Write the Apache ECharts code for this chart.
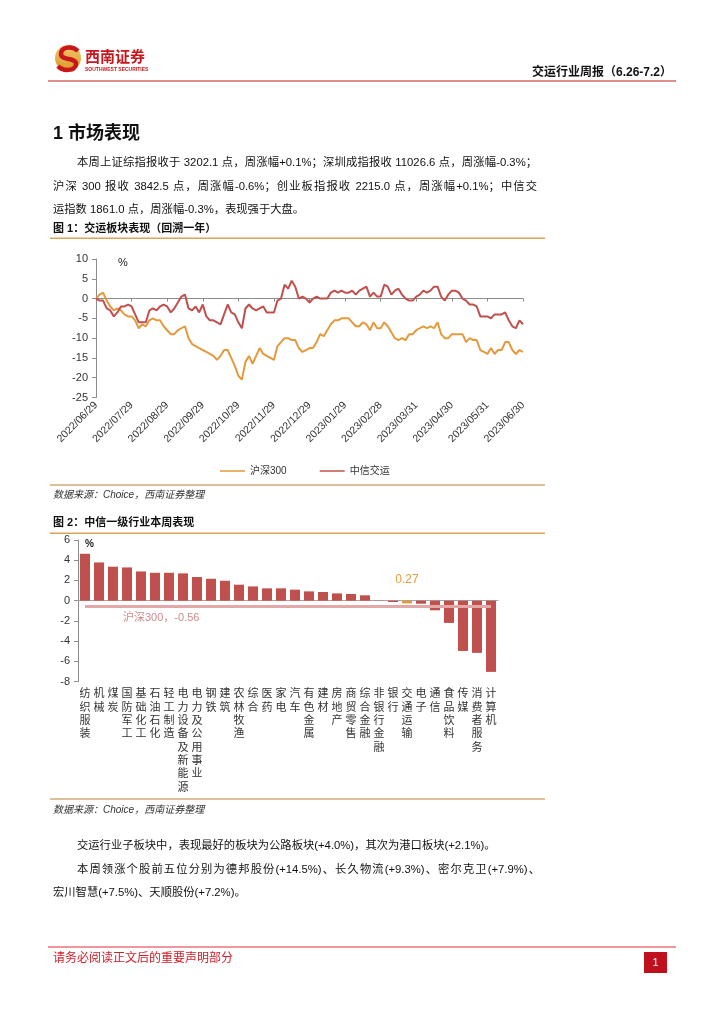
<!DOCTYPE html>
<html>
<head>
<meta charset="utf-8">
<script src="https://cdn.jsdelivr.net/npm/echarts@6/dist/echarts.min.js"></script>
<style>
  html, body { margin:0; padding:0; background:#fff; }
  #page { position:absolute; left:0; top:0; width:724px; height:1024px; }
  .t { position:absolute; font-family:'Liberation Sans','Noto Sans CJK SC',sans-serif; color:#111; white-space:nowrap; z-index:2; }
  .p { font-size:11.3px; line-height:16px; height:16px; }
  .j { text-align:justify; text-align-last:justify; white-space:normal; overflow:hidden; }
  .cap { font-size:11px; font-weight:bold; line-height:14px; }
  .src { font-size:10px; font-style:italic; color:#333; line-height:14px; }
</style>
</head>
<body>
<div id="page"></div>

<div class="t" style="left:530px;top:64px;width:142px;text-align:right;font-size:12px;font-weight:bold;line-height:16px;">交运行业周报（6.26-7.2）</div>

<div class="t" style="left:53px;top:121px;font-size:18px;font-weight:bold;line-height:24px;">1 市场表现</div>

<div class="t p j" style="left:77px;top:154px;width:460px;">本周上证综指报收于 3202.1 点，周涨幅+0.1%；深圳成指报收 11026.6 点，周涨幅-0.3%；</div>
<div class="t p j" style="left:53px;top:177.5px;width:484px;">沪深 300 报收 3842.5 点，周涨幅-0.6%；创业板指报收 2215.0 点，周涨幅+0.1%；中信交</div>
<div class="t p" style="left:53px;top:200.5px;">运指数 1861.0 点，周涨幅-0.3%，表现强于大盘。</div>

<div class="t cap" style="left:53px;top:221px;">图 1：交运板块表现（回溯一年）</div>
<div class="t src" style="left:53px;top:488px;">数据来源：Choice，西南证券整理</div>

<div class="t cap" style="left:53px;top:515px;">图 2：中信一级行业本周表现</div>
<div class="t src" style="left:53px;top:803px;">数据来源：Choice，西南证券整理</div>

<div class="t p" style="left:77px;top:837px;">交运行业子板块中，表现最好的板块为公路板块(+4.0%)，其次为港口板块(+2.1%)。</div>
<div class="t p j" style="left:77px;top:861px;width:463px;">本周领涨个股前五位分别为德邦股份(+14.5%)、长久物流(+9.3%)、密尔克卫(+7.9%)、</div>
<div class="t p" style="left:53px;top:884px;">宏川智慧(+7.5%)、天顺股份(+7.2%)。</div>

<div class="t" style="left:53px;top:950px;font-size:12px;line-height:16px;color:#d0202a;">请务必阅读正文后的重要声明部分</div>

<script>
// ---------- Figure 1 data ----------
const tickLabels1 = ['2022/06/29','2022/07/29','2022/08/29','2022/09/29','2022/10/29','2022/11/29','2022/12/29','2023/01/29','2023/02/28','2023/03/31','2023/04/30','2023/05/31','2023/06/30'];
const pointsPerTick = 10;
const seriesNames1 = ['沪深300', '中信交运'];
const hs300 = [
  0, 1, 1.5, -0.5, -2, -3, -2.5, -3, -4, -4.5,
  -4.5, -5.5, -7.5, -6.5, -7, -5.5, -5, -5.5, -5.5, -7,
  -8, -9, -9, -8, -7.5, -7, -10, -11.5, -12, -12.5,
  -13, -13.5, -14, -14.5, -15.5, -14.5, -13, -13, -15, -17,
  -19.5, -20.5, -16, -14.5, -16.5, -14.5, -12.5, -14, -14.5, -15,
  -15.5, -12, -11, -10, -10, -10.5, -10.5, -12.5, -13.5, -13,
  -12.5, -12.5, -11, -9, -9.5, -8, -6.5, -5.5, -5.5, -5,
  -5, -5, -6, -7, -7, -6, -6.5, -8, -6, -7.5,
  -7.5, -6, -7, -8.5, -10, -10.5, -10, -10.5, -9, -9,
  -8, -7.5, -7, -7.5, -7, -7.5, -6, -9, -10, -10,
  -9, -9, -9, -9, -11, -10, -10.5, -10.5, -13, -13.5,
  -14, -12.5, -14, -13, -13, -11, -11, -13, -14, -13,
  -13.5
];
const zxjy = [
  0, -0.5, -0.5, -2.5, -3, -4.5, -3.5, -2, -2, -1.5,
  -2, -4, -6, -6, -6, -3, -2.5, -3, -2, -1.5,
  -2, -3.5, -2.5, -1, 0.5, 1, -2.5, -3, -2, -3.5,
  -1.5, -4.5, -5.5, -5.5, -6, -6.5, -4, -1.5, -3.5, -4,
  -6, -7.5, -2.5, -1.5, -2.5, -3, -2.5, -2, -3.5, -3.5,
  -3.5, -0.5, 0, 3.5, 2.5, 4.5, 3, 0, 0.5, 0,
  -1, 0, 0.5, 0, 0, 0, 1.5, 2, 1.5, 2,
  1.5, 1.5, 2, 1, 2, 2.5, 3, 0.5, 1.5, 0.5,
  0.5, 3.5, 3, 1, 2, 2.5, 1, 0, -0.5, -0.5,
  0.5, 1, 2, 1.5, 2, 3, 3, 0.5, -0.5, 1,
  2, 2, 1.5, 0, -0.5, -1.5, -1.5, -2, -4.5, -4.5,
  -4.5, -5, -4, -4, -4, -3.5, -5.5, -7, -7.5, -5.5,
  -6.5
];

// ---------- Figure 2 data ----------
const industries = ['纺织服装','机械','煤炭','国防军工','基础化工','石油石化','轻工制造','电力设备及新能源','电力及公用事业','钢铁','建筑','农林牧渔','综合','医药','家电','汽车','有色金属','建材','房地产','商贸零售','综合金融','非银行金融','银行','交通运输','电子','通信','食品饮料','传媒','消费者服务','计算机'];
const weekly = [4.64, 3.78, 3.36, 3.29, 2.89, 2.76, 2.76, 2.70, 2.34, 2.17, 1.97, 1.58, 1.41, 1.22, 1.22, 1.09, 0.92, 0.86, 0.72, 0.66, 0.53, 0.02, -0.13, -0.27, -0.30, -0.95, -2.20, -4.97, -5.16, -7.04];
const highlight = '交通运输';
const hs300Week = -0.56;

// ---------- build ----------
const RED = '#c0504d', ORANGE = '#e39a3d';
const cats1 = [];
for (let i = 0; i < hs300.length; i++) {
  cats1.push(i % pointsPerTick === 0 ? tickLabels1[i / pointsPerTick] : String(i));
}
const FONT = "'Liberation Sans','Noto Sans CJK SC',sans-serif";
const CJK = "'Noto Sans CJK SC',sans-serif";

const barData = weekly.map((v, i) => industries[i] === highlight ? {
  value: v,
  itemStyle: { color: ORANGE },
  label: { show: true, position: 'top', distance: 15, color: ORANGE, fontSize: 12,
           formatter: p => Math.abs(p.value).toFixed(2) }
} : v);

const chart = echarts.init(document.getElementById('page'), null, { renderer: 'canvas', width: 724, height: 1024 });
chart.setOption({
  animation: false,
  textStyle: { fontFamily: FONT },
  grid: [
    { left: 96, top: 259, width: 427, height: 138.5 },
    { left: 78, top: 540, width: 420, height: 141.6 }
  ],
  legend: {
    data: seriesNames1, left: 215, top: 461, icon: 'rect', itemWidth: 25, itemHeight: 1.5, itemGap: 33,
    textStyle: { fontSize: 10, color: '#333', fontFamily: FONT }
  },
  xAxis: [
    { gridIndex: 0, type: 'category', data: cats1, boundaryGap: false,
      axisLine: { show: false, onZero: false }, axisTick: { show: false },
      axisLabel: { interval: pointsPerTick - 1, rotate: 45, fontSize: 10.5, color: '#333', margin: 6 },
      splitLine: { show: false } },
    { gridIndex: 0, type: 'category', data: cats1, boundaryGap: false, position: 'bottom',
      axisLine: { show: true, onZero: true, lineStyle: { color: '#8c8c8c', width: 1 } },
      axisTick: { show: true, interval: pointsPerTick - 1, length: 3, lineStyle: { color: '#8c8c8c' } },
      axisLabel: { show: false }, splitLine: { show: false } },
    { gridIndex: 1, type: 'category', data: industries,
      axisLine: { show: false, onZero: false }, axisTick: { show: false },
      axisLabel: { interval: 0, fontSize: 11, lineHeight: 13.3, color: '#333', margin: 5, fontFamily: CJK,
                   formatter: v => v.split('').join('\n') } },
    { gridIndex: 1, type: 'category', data: industries, position: 'bottom',
      axisLine: { show: true, onZero: true, lineStyle: { color: '#a6a6a6', width: 1 } },
      axisTick: { show: false }, axisLabel: { show: false } }
  ],
  yAxis: [
    { gridIndex: 0, type: 'value', min: -25, max: 10, interval: 5,
      axisLine: { show: true, lineStyle: { color: '#8c8c8c' } },
      axisTick: { show: true, length: 4, lineStyle: { color: '#8c8c8c' } },
      splitLine: { show: false },
      axisLabel: { fontSize: 11, color: '#333', margin: 8 } },
    { gridIndex: 1, type: 'value', min: -8, max: 6, interval: 2,
      axisLine: { show: true, lineStyle: { color: '#8c8c8c' } },
      axisTick: { show: true, length: 4, lineStyle: { color: '#8c8c8c' } },
      splitLine: { show: false },
      axisLabel: { fontSize: 11, color: '#333', margin: 8 } }
  ],
  series: [
    { name: seriesNames1[0], type: 'line', xAxisIndex: 0, yAxisIndex: 0, data: hs300,
      showSymbol: false, symbol: 'none', lineStyle: { color: ORANGE, width: 2 }, itemStyle: { color: ORANGE } },
    { name: seriesNames1[1], type: 'line', xAxisIndex: 0, yAxisIndex: 0, data: zxjy,
      showSymbol: false, symbol: 'none', lineStyle: { color: RED, width: 2 }, itemStyle: { color: RED } },
    { type: 'bar', xAxisIndex: 2, yAxisIndex: 1, data: barData, barWidth: 10,
      itemStyle: { color: RED },
      markLine: {
        silent: true, symbol: 'none',
        lineStyle: { color: '#e3a8a8', width: 3, type: 'solid' },
        label: { show: true, position: 'insideStartBottom', distance: [38, 6], color: '#cf8a8a', fontSize: 11,
                 fontFamily: FONT, formatter: '沪深300，' + hs300Week.toFixed(2) },
        data: [[ { xAxis: industries[0], yAxis: hs300Week }, { xAxis: industries[industries.length - 1], yAxis: hs300Week } ]]
      }
    }
  ],
  graphic: [
    { type: 'rect', shape: { x: 48, y: 80, width: 628, height: 2 }, style: { fill: '#e08e8e' }, silent: true },
    { type: 'circle', shape: { cx: 68, cy: 58, r: 13 },
      style: { fill: { type: 'linear', x: 0, y: 0, x2: 0, y2: 1, colorStops: [{ offset: 0, color: '#f3c766' }, { offset: 1, color: '#d99a2b' }] } } },
    { type: 'bezierCurve', shape: { x1: 78, y1: 51, cpx1: 72, cpy1: 45, cpx2: 61, cpy2: 47, x2: 61, y2: 54 },
      style: { stroke: '#c8161d', lineWidth: 4.5, fill: 'none' } },
    { type: 'bezierCurve', shape: { x1: 61, y1: 54, cpx1: 61, cpy1: 61, cpx2: 76, cpy2: 57, x2: 76, y2: 64 },
      style: { stroke: '#c8161d', lineWidth: 4.5, fill: 'none' } },
    { type: 'bezierCurve', shape: { x1: 76, y1: 64, cpx1: 76, cpy1: 71, cpx2: 63, cpy2: 72, x2: 58, y2: 66 },
      style: { stroke: '#c8161d', lineWidth: 4.5, fill: 'none' } },
    { type: 'text', x: 85, y: 56, style: { text: '西南证券', fontSize: 15, fontWeight: 'bold', fill: '#c8161d', fontFamily: CJK, verticalAlign: 'middle' } },
    { type: 'text', x: 85, y: 70, style: { text: 'SOUTHWEST SECURITIES', fontSize: 5, fontWeight: 'bold', fill: '#c8161d', fontFamily: FONT, verticalAlign: 'middle' } },
    { type: 'rect', shape: { x: 50, y: 237.5, width: 495, height: 1.5 }, style: { fill: '#dba45c' } },
    { type: 'rect', shape: { x: 50, y: 484, width: 495, height: 2 }, style: { fill: '#dcc09a' } },
    { type: 'rect', shape: { x: 50, y: 532.5, width: 495, height: 1.5 }, style: { fill: '#dba45c' } },
    { type: 'rect', shape: { x: 50, y: 798, width: 495, height: 2 }, style: { fill: '#dcc09a' } },
    { type: 'text', x: 118, y: 263, style: { text: '%', fontSize: 11, fill: '#222', fontFamily: FONT, verticalAlign: 'middle' } },
    { type: 'text', x: 85, y: 544, style: { text: '%', fontSize: 10, fontWeight: 'bold', fill: '#222', fontFamily: FONT, verticalAlign: 'middle' } },
    { type: 'rect', shape: { x: 48, y: 946.5, width: 628, height: 1 }, style: { fill: '#e0303a' } },
    { type: 'rect', shape: { x: 644, y: 952, width: 23, height: 21 }, style: { fill: '#c0101e' } },
    { type: 'text', x: 655.5, y: 962.5, style: { text: '1', fontSize: 11, fill: '#fff', fontFamily: FONT, align: 'center', verticalAlign: 'middle' } }
  ]
});
</script>
</body>
</html>
